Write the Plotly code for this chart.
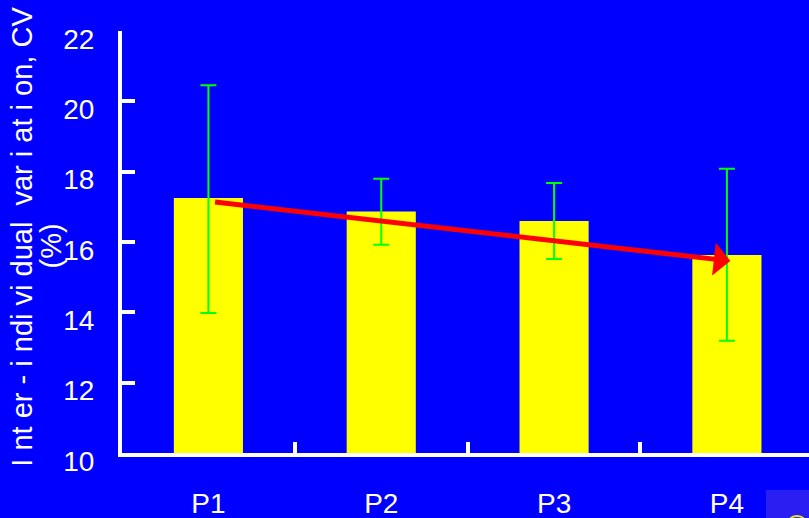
import plotly.graph_objects as go

# Inter-individual CV (%) per period
periods = ["P1", "P2", "P3", "P4"]
cv_mean = [17.25, 16.87, 16.60, 15.63]
err_plus = [3.21, 0.93, 1.08, 2.45]
err_minus = [3.27, 0.95, 1.08, 2.44]

# Trend arrow endpoints (category index, CV %)
trend_start = (0.03, 17.14)
trend_end = (3.02, 15.46)

y_ticks = [10, 12, 14, 16, 18, 20, 22]
y_title_main = "I nt er - i ndi vi dual \u00a0var i at i on, CV"
y_title_unit = "(%)"

FONT = "Liberation Sans, Arial, sans-serif"
FS = 28
BG = "#0000FF"

fig = go.Figure()
fig.add_trace(go.Bar(
    x=periods,
    y=cv_mean,
    width=0.4,
    marker=dict(color="#FFFF00", line=dict(width=0)),
    error_y=dict(type="data", symmetric=False, array=err_plus,
                 arrayminus=err_minus, color="#00FF00", thickness=2, width=8),
    showlegend=False,
))

fig.add_annotation(
    x=trend_end[0], y=trend_end[1], ax=trend_start[0], ay=trend_start[1],
    xref="x", yref="y", axref="x", ayref="y",
    text="", showarrow=True, arrowhead=1, arrowsize=1.1, arrowwidth=5,
    arrowcolor="#FF0000",
)

# rotated axis title, two lines
fig.add_annotation(
    x=-0.146, y=0.512, xref="paper", yref="paper",
    text=y_title_main, showarrow=False, textangle=-90,
    font=dict(family=FONT, size=29, color="white"),
    xanchor="center", yanchor="middle",
)
fig.add_annotation(
    x=-0.103, y=0.49, xref="paper", yref="paper",
    text=y_title_unit, showarrow=False, textangle=-90,
    font=dict(family=FONT, size=29, color="white"),
    xanchor="center", yanchor="middle",
)

# corner badge
fig.add_shape(type="rect", xref="paper", yref="paper",
              x0=0.9374, x1=1.01, y0=-0.17, y1=-0.0877,
              fillcolor="#2A1EF2", line=dict(width=0), layer="above")
fig.add_shape(type="circle", xref="paper", yref="paper",
              x0=0.968, x1=0.997, y0=-0.197, y1=-0.149,
              line=dict(color="#E8E020", width=2), layer="above")

fig.update_layout(
    width=809, height=518,
    margin=dict(l=122, r=0, t=31, b=65),
    paper_bgcolor=BG, plot_bgcolor=BG,
    font=dict(family=FONT, size=FS, color="white"),
    bargap=0.6,
)
fig.update_xaxes(
    type="category", range=[-0.5, 3.475], automargin=False,
    showline=True, linecolor="white", linewidth=4,
    ticks="inside", tickson="boundaries", ticklen=11, tickwidth=4,
    tickcolor="white", showgrid=False, zeroline=False,
    ticklabelstandoff=22,
    tickfont=dict(family=FONT, size=FS, color="white"),
)
fig.update_yaxes(
    range=[10, 22], tickvals=y_ticks, automargin=False,
    showline=True, linecolor="white", linewidth=4,
    ticks="inside", ticklen=13, tickwidth=4, tickcolor="white",
    showgrid=False, zeroline=False,
    ticklabelstandoff=18, ticklabelshift=8,
    tickfont=dict(family=FONT, size=FS, color="white"),
)

fig.write_html("out.html")
